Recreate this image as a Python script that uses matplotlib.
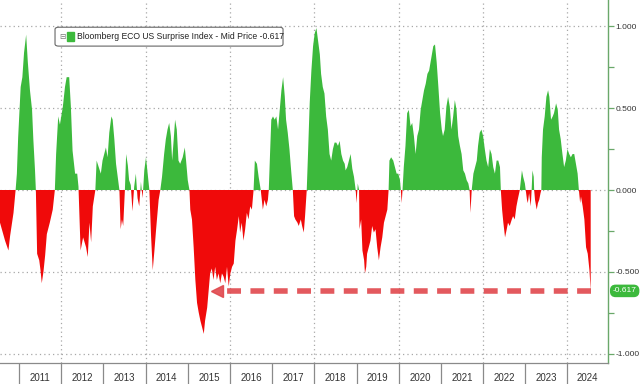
import numpy as np
import matplotlib
matplotlib.use("Agg")
import matplotlib.pyplot as plt
from matplotlib.patches import FancyBboxPatch
from matplotlib.ticker import FixedLocator, NullFormatter

# ── data (decimal year, index value) ─────────────────────────────────────────
dates = [
    2010.55, 2010.67, 2010.75, 2010.79, 2010.87, 2010.92, 2010.95, 2010.98, 2011.04, 2011.08,
    2011.12, 2011.17, 2011.21, 2011.26, 2011.31, 2011.34, 2011.38, 2011.40, 2011.43, 2011.48,
    2011.51, 2011.54, 2011.58, 2011.62, 2011.66, 2011.73, 2011.80, 2011.85, 2011.88, 2011.93,
    2011.97, 2012.04, 2012.09, 2012.13, 2012.19, 2012.23, 2012.27, 2012.33, 2012.38, 2012.41,
    2012.46, 2012.52, 2012.59, 2012.63, 2012.67, 2012.71, 2012.75, 2012.81, 2012.84, 2012.89,
    2012.94, 2012.98, 2013.02, 2013.06, 2013.10, 2013.14, 2013.19, 2013.22, 2013.26, 2013.30,
    2013.34, 2013.38, 2013.41, 2013.44, 2013.47, 2013.51, 2013.54, 2013.58, 2013.61, 2013.65,
    2013.69, 2013.73, 2013.77, 2013.81, 2013.85, 2013.89, 2013.93, 2013.97, 2014.01, 2014.05,
    2014.09, 2014.13, 2014.17, 2014.21, 2014.25, 2014.31, 2014.35, 2014.39, 2014.44, 2014.48,
    2014.52, 2014.56, 2014.60, 2014.63, 2014.67, 2014.70, 2014.74, 2014.78, 2014.82, 2014.88,
    2014.93, 2014.96, 2015.00, 2015.04, 2015.06, 2015.10, 2015.14, 2015.18, 2015.22, 2015.26,
    2015.30, 2015.34, 2015.38, 2015.41, 2015.46, 2015.50, 2015.53, 2015.57, 2015.61, 2015.65,
    2015.69, 2015.73, 2015.77, 2015.81, 2015.85, 2015.89, 2015.93, 2015.97, 2016.01, 2016.05,
    2016.09, 2016.13, 2016.17, 2016.21, 2016.24, 2016.28, 2016.32, 2016.36, 2016.40, 2016.44,
    2016.48, 2016.52, 2016.56, 2016.59, 2016.64, 2016.68, 2016.73, 2016.78, 2016.82, 2016.86,
    2016.90, 2016.92, 2016.95, 2016.98, 2017.02, 2017.06, 2017.10, 2017.14, 2017.18, 2017.22,
    2017.26, 2017.30, 2017.33, 2017.37, 2017.41, 2017.45, 2017.49, 2017.52, 2017.55, 2017.60,
    2017.63, 2017.68, 2017.71, 2017.75, 2017.78, 2017.82, 2017.85, 2017.89, 2017.93, 2017.97,
    2018.01, 2018.05, 2018.09, 2018.13, 2018.16, 2018.20, 2018.24, 2018.28, 2018.32, 2018.36,
    2018.40, 2018.44, 2018.48, 2018.52, 2018.56, 2018.60, 2018.64, 2018.68, 2018.72, 2018.74,
    2018.78, 2018.82, 2018.86, 2018.90, 2018.94, 2018.98, 2019.00, 2019.03, 2019.06, 2019.07,
    2019.11, 2019.14, 2019.18, 2019.20, 2019.23, 2019.25, 2019.29, 2019.33, 2019.37, 2019.41,
    2019.45, 2019.49, 2019.53, 2019.57, 2019.61, 2019.65, 2019.69, 2019.73, 2019.76, 2019.78,
    2019.82, 2019.87, 2019.91, 2019.95, 2019.99, 2020.03, 2020.05, 2020.07, 2020.09, 2020.12,
    2020.16, 2020.20, 2020.24, 2020.28, 2020.32, 2020.36, 2020.40, 2020.44, 2020.48, 2020.52,
    2020.56, 2020.60, 2020.64, 2020.68, 2020.72, 2020.78, 2020.82, 2020.86, 2020.90, 2020.94,
    2020.98, 2021.02, 2021.05, 2021.09, 2021.13, 2021.17, 2021.21, 2021.25, 2021.29, 2021.33,
    2021.37, 2021.41, 2021.45, 2021.49, 2021.53, 2021.57, 2021.61, 2021.65, 2021.68, 2021.70,
    2021.73, 2021.77, 2021.81, 2021.85, 2021.88, 2021.92, 2021.96, 2022.00, 2022.04, 2022.08,
    2022.12, 2022.16, 2022.20, 2022.24, 2022.28, 2022.32, 2022.36, 2022.40, 2022.42, 2022.45,
    2022.48, 2022.52, 2022.56, 2022.59, 2022.63, 2022.68, 2022.71, 2022.75, 2022.79, 2022.82,
    2022.87, 2022.92, 2022.95, 2022.99, 2023.01, 2023.04, 2023.06, 2023.09, 2023.13, 2023.15,
    2023.17, 2023.20, 2023.21, 2023.23, 2023.27, 2023.30, 2023.33, 2023.36, 2023.38, 2023.39,
    2023.42, 2023.46, 2023.50, 2023.54, 2023.57, 2023.61, 2023.65, 2023.68, 2023.73, 2023.77,
    2023.80, 2023.84, 2023.88, 2023.92, 2023.96, 2024.00, 2024.04, 2024.08, 2024.12, 2024.16,
    2024.20, 2024.24, 2024.27, 2024.30, 2024.32, 2024.36, 2024.40, 2024.44, 2024.48, 2024.52,
    2024.55,
]
values = [
    -0.20, -0.31, -0.37, -0.28, -0.14, 0.00, 0.10, 0.32, 0.63, 0.69,
    0.84, 0.95, 0.78, 0.61, 0.49, 0.31, 0.12, 0.00, -0.39, -0.43,
    -0.49, -0.57, -0.50, -0.40, -0.27, -0.20, -0.12, 0.00, 0.22, 0.45,
    0.40, 0.51, 0.63, 0.69, 0.69, 0.51, 0.24, 0.10, 0.10, 0.02,
    -0.37, -0.29, -0.35, -0.41, -0.20, -0.32, -0.10, 0.00, 0.18, 0.14,
    0.10, 0.18, 0.22, 0.26, 0.20, 0.35, 0.45, 0.43, 0.31, 0.16,
    0.08, 0.00, -0.24, -0.18, -0.22, 0.00, 0.22, 0.15, 0.06, 0.03,
    -0.13, 0.02, 0.10, -0.05, -0.10, 0.05, -0.05, 0.12, 0.20, 0.10,
    0.00, -0.28, -0.49, -0.37, -0.24, -0.06, 0.00, 0.08, 0.22, 0.31,
    0.37, 0.41, 0.33, 0.18, 0.32, 0.43, 0.37, 0.18, 0.16, 0.20,
    0.26, 0.18, 0.06, 0.00, -0.12, -0.18, -0.35, -0.55, -0.69, -0.75,
    -0.80, -0.84, -0.88, -0.80, -0.72, -0.60, -0.51, -0.48, -0.55, -0.47,
    -0.55, -0.51, -0.57, -0.51, -0.53, -0.57, -0.47, -0.59, -0.51, -0.47,
    -0.45, -0.31, -0.24, -0.16, -0.26, -0.20, -0.31, -0.24, -0.14, -0.18,
    -0.10, -0.12, 0.00, 0.18, 0.16, 0.08, 0.00, -0.12, -0.06, -0.10,
    -0.06, 0.00, 0.22, 0.43, 0.45, 0.43, 0.45, 0.37, 0.49, 0.61,
    0.69, 0.57, 0.43, 0.35, 0.25, 0.12, 0.00, -0.16, -0.18, -0.20,
    -0.22, -0.18, -0.22, -0.26, -0.16, 0.00, 0.22, 0.53, 0.73, 0.88,
    0.96, 0.99, 0.91, 0.83, 0.71, 0.63, 0.59, 0.45, 0.37, 0.22,
    0.18, 0.25, 0.29, 0.29, 0.27, 0.30, 0.22, 0.18, 0.16, 0.12,
    0.14, 0.18, 0.22, 0.13, 0.08, 0.00, -0.08, 0.04, 0.00, -0.24,
    -0.18, -0.37, -0.43, -0.51, -0.47, -0.39, -0.35, -0.31, -0.22, -0.26,
    -0.24, -0.35, -0.43, -0.35, -0.29, -0.20, -0.16, -0.12, 0.00, 0.18,
    0.20, 0.18, 0.14, 0.10, 0.10, 0.06, 0.00, -0.08, 0.00, 0.14,
    0.27, 0.47, 0.49, 0.39, 0.41, 0.33, 0.22, 0.33, 0.37, 0.49,
    0.55, 0.61, 0.65, 0.71, 0.73, 0.82, 0.88, 0.89, 0.78, 0.63,
    0.47, 0.37, 0.33, 0.37, 0.51, 0.57, 0.51, 0.37, 0.45, 0.55,
    0.49, 0.33, 0.27, 0.22, 0.12, 0.10, 0.06, 0.04, 0.00, -0.14,
    0.00, 0.10, 0.14, 0.18, 0.27, 0.35, 0.37, 0.33, 0.25, 0.18,
    0.14, 0.25, 0.22, 0.14, 0.10, 0.18, 0.18, 0.14, 0.00, -0.12,
    -0.20, -0.29, -0.24, -0.20, -0.22, -0.18, -0.16, -0.18, -0.10, -0.06,
    0.00, 0.12, 0.08, 0.04, 0.00, -0.06, -0.08, -0.02, -0.10, 0.00,
    0.12, 0.08, 0.00, -0.06, -0.12, -0.08, -0.06, -0.02, 0.00, 0.20,
    0.37, 0.45, 0.57, 0.61, 0.57, 0.43, 0.45, 0.47, 0.53, 0.49,
    0.37, 0.31, 0.22, 0.14, 0.18, 0.25, 0.22, 0.20, 0.22, 0.22,
    0.16, 0.10, 0.00, -0.08, -0.04, -0.10, -0.18, -0.35, -0.39, -0.49,
    -0.617,
]
years = list(range(2011, 2025))
last_value = -0.617
arrow_tip = 2015.57
legend_label = "Bloomberg ECO US Surprise Index - Mid Price -0.617"

# ── styling ───────────────────────────────────────────────────────────────────
C_GREEN = "#3cb93c"
C_RED   = "#f00a0a"
C_ARROW = "#e0474c"
C_GRID  = "#a8a8a8"
C_AXIS  = "#6aa86a"
XMIN, XMAX = 2010.55, 2024.96
YMIN, YMAX = -1.058, 1.162

plt.rcParams["font.family"] = ["Liberation Sans", "DejaVu Sans"]

d = np.array(dates)
v = np.array(values)

fig = plt.figure(figsize=(6.4, 3.84), dpi=100)
ax = fig.add_axes([0, 21 / 384, 608 / 640, 363 / 384])

ax.fill_between(d, v, 0, where=v >= 0, interpolate=True, color=C_GREEN, lw=0, zorder=2)
ax.fill_between(d, v, 0, where=v <= 0, interpolate=True, color=C_RED, lw=0, zorder=2)

ax.set_xlim(XMIN, XMAX)
ax.set_ylim(YMIN, YMAX)

# grid
for gy in [-1.0, -0.5, 0.0, 0.5, 1.0]:
    ax.axhline(gy, color=C_GRID, lw=0.9, ls=(0, (1, 2.5)), zorder=1)
for gx in range(2012, 2025, 2):
    ax.axvline(gx, color=C_GRID, lw=0.9, ls=(0, (1, 2.5)), zorder=1)

# y axis on the right
yt = [-1.0, -0.5, 0.0, 0.5, 1.0]
ax.yaxis.tick_right()
ax.set_yticks(yt)
ax.set_yticklabels([f"{t:.3f}" for t in yt])
ax.yaxis.set_minor_locator(FixedLocator([-0.75, -0.25, 0.25, 0.75]))
ax.tick_params(axis="y", which="both", direction="out", length=4, width=0.9,
               color=C_AXIS, labelsize=6.0, labelcolor="#333333", pad=1.5)

# x axis: year separators + centred labels
ax.xaxis.set_major_locator(FixedLocator(years))
ax.xaxis.set_major_formatter(NullFormatter())
centres = [y + 0.5 for y in years[:-1]] + [(years[-1] + XMAX) / 2]
ax.xaxis.set_minor_locator(FixedLocator(centres))
ax.set_xticklabels([str(y) for y in years], minor=True)
ax.tick_params(axis="x", which="major", direction="out", length=21, width=0.9, color="#8a8a8a")
ax.tick_params(axis="x", which="minor", length=0, labelsize=7, labelcolor="#333333", pad=7)

for s in ["top", "left"]:
    ax.spines[s].set_visible(False)
ax.spines["right"].set_color(C_AXIS)
ax.spines["right"].set_linewidth(1.0)
ax.spines["bottom"].set_color("#8a8a8a")
ax.spines["bottom"].set_linewidth(0.9)

# dashed arrow to the 2015 low
ax.plot([dates[-1], arrow_tip + 0.3], [last_value, last_value], color=C_ARROW,
        lw=4, ls=(0, (2.5, 1.7)), alpha=0.9, solid_capstyle="butt", zorder=4)
ax.plot([arrow_tip + 0.12], [last_value], marker="<", ms=9, color=C_ARROW,
        mec=C_ARROW, alpha=0.9, zorder=4)

# last value badge
ax.annotate(f"{last_value:.3f}", xy=(1.0, last_value), xycoords=("axes fraction", "data"),
            xytext=(12, 0), textcoords="offset points", ha="center", va="center",
            fontsize=6.0, color="white", annotation_clip=False,
            bbox=dict(boxstyle="round,pad=0.25,rounding_size=0.6", fc=C_GREEN, ec=C_GREEN))

# legend box
ax.add_patch(FancyBboxPatch((0.0905, 0.873), 0.375, 0.052, transform=ax.transAxes,
                            boxstyle="round,pad=0,rounding_size=0.006",
                            fc="white", ec="#666666", lw=0.8, zorder=5))
ax.text(0.103, 0.899, "\u229f", transform=ax.transAxes, fontsize=5.5, color="#777777",
        va="center", ha="center", family=["DejaVu Sans"], zorder=6)
ax.add_patch(plt.Rectangle((0.110, 0.887), 0.011, 0.025, transform=ax.transAxes,
                           color=C_GREEN, zorder=6))
ax.text(0.127, 0.899, legend_label, transform=ax.transAxes, fontsize=6.2, color="#222222",
        va="center", ha="left", zorder=6)

fig.savefig("out.png", dpi=100)
